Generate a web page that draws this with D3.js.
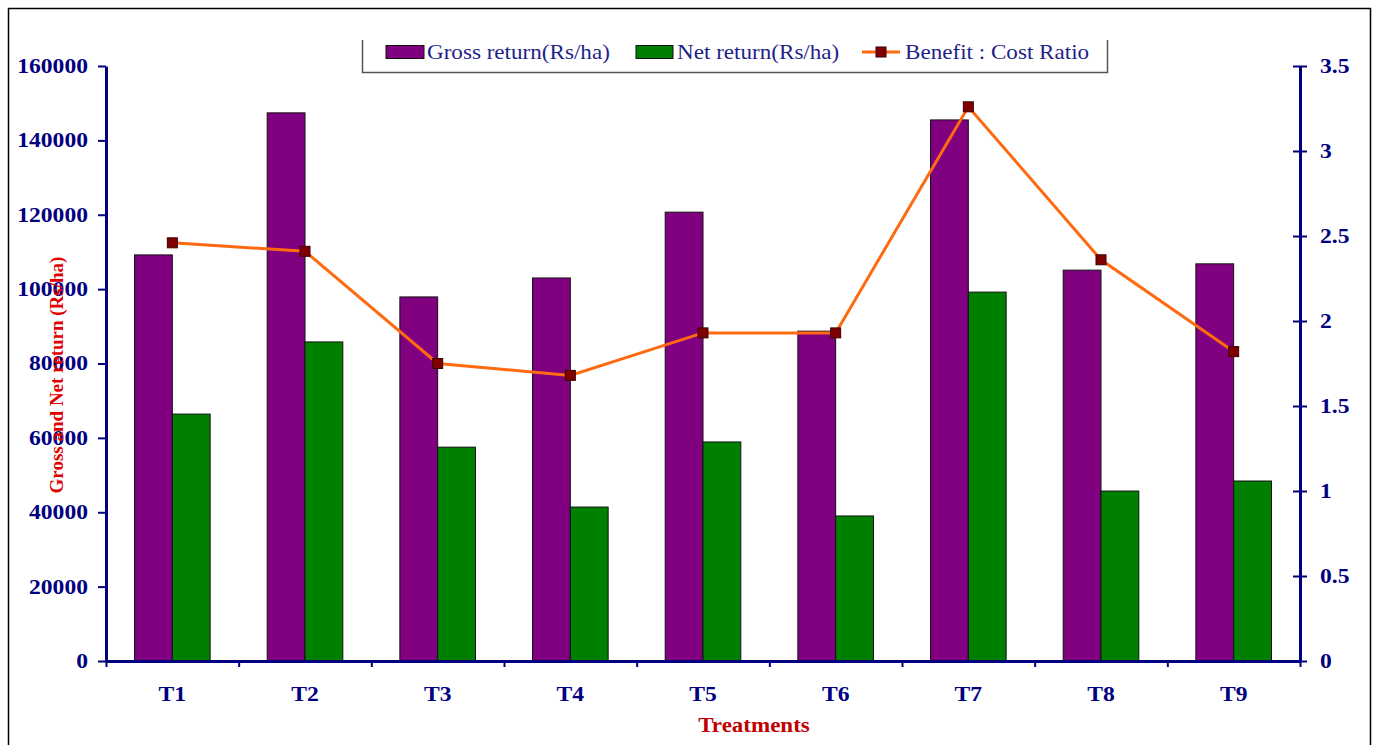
<!DOCTYPE html>
<html>
<head>
<meta charset="utf-8">
<script src="https://cdn.jsdelivr.net/npm/d3@7"></script>
<style>
  body { margin: 0; background: #fff; }
  svg { display: block; }
</style>
</head>
<body>
<div id="chart"></div>
<script>
// treatments and their returns / B:C ratio
var treatments = ["T1", "T2", "T3", "T4", "T5", "T6", "T7", "T8", "T9"];
var grossReturn = [109200, 147400, 97900, 103000, 120700, 88700, 145500, 105100, 106800];
var netReturn = [66400, 85800, 57500, 41400, 58900, 39000, 99200, 45700, 48400];
var bcRatio = [2.46, 2.41, 1.75, 1.68, 1.93, 1.93, 3.26, 2.36, 1.82];
var leftTicks = [0, 20000, 40000, 60000, 80000, 100000, 120000, 140000, 160000];
var rightTicks = [0, 0.5, 1, 1.5, 2, 2.5, 3, 3.5];

var W = 1376, H = 745;
var margin = {top: 66, right: 76, bottom: 84, left: 106},
    width = W - margin.left - margin.right,
    height = H - margin.top - margin.bottom;

var navy = "#000080", serif = "'Liberation Serif', 'Times New Roman', serif";

var svg = d3.select("#chart").append("svg")
    .attr("width", W)
    .attr("height", H);

// outer frame
svg.append("rect")
    .attr("x", 8.5).attr("y", 8.5)
    .attr("width", 1362).attr("height", 760)
    .attr("fill", "none").attr("stroke", "#000").attr("stroke-width", 1.5);

var g = svg.append("g")
    .attr("transform", "translate(" + margin.left + "," + margin.top + ")");

var x = d3.scaleBand().domain(treatments).range([0, width]);
var bw = x.bandwidth();
var xs = d3.scaleBand().domain(["gross", "net"]).range([bw * 0.215, bw * 0.785]);
var y = d3.scaleLinear().domain([0, 160000]).range([height, 0]);
var y2 = d3.scaleLinear().domain([0, 3.5]).range([height, 0]);

// horizontally widen text the way the original rendering looks
function stretch(sel, k) {
  sel.each(function() {
    var w = this.getComputedTextLength();
    d3.select(this).attr("textLength", w * k).attr("lengthAdjust", "spacingAndGlyphs");
  });
}

var rows = treatments.map(function(t, i) {
  return {t: t, gross: grossReturn[i], net: netReturn[i], bc: bcRatio[i]};
});

// bars
var grp = g.selectAll("g.grp").data(rows).enter().append("g")
    .attr("class", "grp")
    .attr("transform", function(d) { return "translate(" + x(d.t) + ",0)"; });

grp.append("rect")
    .attr("x", xs("gross")).attr("width", xs.bandwidth())
    .attr("y", function(d) { return y(d.gross); })
    .attr("height", function(d) { return height - y(d.gross); })
    .attr("fill", "#800080").attr("stroke", "#111").attr("stroke-width", 1);

grp.append("rect")
    .attr("x", xs("net")).attr("width", xs.bandwidth())
    .attr("y", function(d) { return y(d.net); })
    .attr("height", function(d) { return height - y(d.net); })
    .attr("fill", "#008000").attr("stroke", "#111").attr("stroke-width", 1);

// left axis
var yAxis = d3.axisLeft(y).tickValues(leftTicks).tickSize(8).tickSizeOuter(0).tickPadding(10)
    .tickFormat(d3.format("d"));
var ya = g.append("g").call(yAxis);

// right axis
var y2Axis = d3.axisRight(y2).tickValues(rightTicks).tickSize(7).tickSizeOuter(0).tickPadding(13)
    .tickFormat(function(d) { return String(d); });
var ya2 = g.append("g").attr("transform", "translate(" + width + ",0)").call(y2Axis);
ya2.selectAll(".tick line").attr("x1", -7);

// bottom axis: boundary ticks and centred labels
var xb = d3.scaleLinear().domain([0, treatments.length]).range([0, width]);
var xa = g.append("g").attr("transform", "translate(0," + height + ")")
    .call(d3.axisBottom(xb).tickValues(d3.range(treatments.length + 1)).tickSize(6).tickSizeOuter(0).tickFormat(""));
var xl = g.append("g").attr("transform", "translate(0," + height + ")")
    .call(d3.axisBottom(x).tickSize(0).tickPadding(26));
xl.select(".domain").remove();

[ya, ya2, xa, xl].forEach(function(a) {
  a.select(".domain").attr("stroke", navy).attr("stroke-width", 3);
  a.selectAll(".tick line").attr("stroke", navy).attr("stroke-width", 2);
  a.selectAll("text")
      .attr("fill", navy)
      .style("font-family", serif)
      .style("font-weight", "bold")
      .style("font-size", "20px");
  stretch(a.selectAll("text"), 1.18);
});

// B:C line
var line = d3.line()
    .x(function(d) { return x(d.t) + bw / 2; })
    .y(function(d) { return y2(d.bc); });

g.append("path").datum(rows)
    .attr("d", line)
    .attr("fill", "none").attr("stroke", "#ff6a10").attr("stroke-width", 3);

g.selectAll("rect.mk").data(rows).enter().append("rect")
    .attr("class", "mk")
    .attr("x", function(d) { return x(d.t) + bw / 2 - 5; })
    .attr("y", function(d) { return y2(d.bc) - 5; })
    .attr("width", 10).attr("height", 10)
    .attr("fill", "#800000").attr("stroke", "#3a0000").attr("stroke-width", 1);

// axis titles
var xt = svg.append("text")
    .attr("x", 754).attr("y", 732)
    .attr("text-anchor", "middle")
    .attr("fill", "#c00000")
    .style("font-family", serif).style("font-weight", "bold").style("font-size", "20px")
    .text("Treatments");
stretch(xt, 1.15);

svg.append("text")
    .attr("transform", "translate(63,375) rotate(-90)")
    .attr("text-anchor", "middle")
    .attr("fill", "#e00000")
    .style("font-family", serif).style("font-weight", "bold").style("font-size", "19px")
    .text("Gross and Net return (Rs/ha)");

// legend (box open at the top, as in the original)
var lg = svg.append("g");
lg.append("path")
    .attr("d", "M362.5,40 V72.5 H1107.5 V40")
    .attr("fill", "none").attr("stroke", "#555").attr("stroke-width", 1.5);

var legendText = ["Gross return(Rs/ha)", "Net return(Rs/ha)", "Benefit : Cost Ratio"];
var legendX = [386, 636, 862];

lg.append("rect").attr("x", legendX[0]).attr("y", 45.5).attr("width", 38).attr("height", 13)
    .attr("fill", "#800080").attr("stroke", "#111");
lg.append("rect").attr("x", legendX[1]).attr("y", 45.5).attr("width", 37).attr("height", 13)
    .attr("fill", "#008000").attr("stroke", "#111");
lg.append("line").attr("x1", legendX[2]).attr("x2", legendX[2] + 38).attr("y1", 52).attr("y2", 52)
    .attr("stroke", "#ff6a10").attr("stroke-width", 3);
lg.append("rect").attr("x", legendX[2] + 14).attr("y", 47).attr("width", 10).attr("height", 10)
    .attr("fill", "#800000").attr("stroke", "#3a0000");

var lt = lg.selectAll("text.lt").data(legendText).enter().append("text")
    .attr("class", "lt")
    .attr("x", function(d, i) { return legendX[i] + (i === 2 ? 43 : 41); })
    .attr("y", 59)
    .attr("fill", "#1f1f8a")
    .style("font-family", serif).style("font-size", "21px")
    .text(function(d) { return d; });
stretch(lt, 1.1);
</script>
</body>
</html>
